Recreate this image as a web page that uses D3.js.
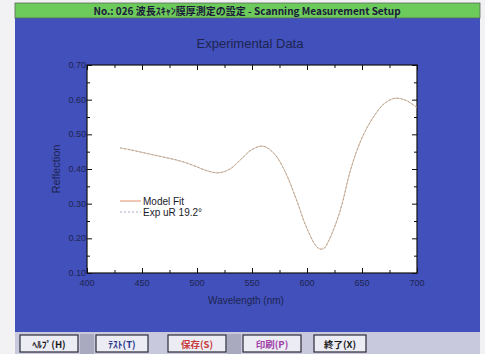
<!DOCTYPE html>
<html>
<head>
<meta charset="utf-8">
<script src="https://cdn.jsdelivr.net/npm/d3@7"></script>
<style>
  body { margin: 0; background: #f4f4f6; }
  svg { display: block; }
</style>
</head>
<body>
<div id="chart"></div>
<script>
// values
const wavelengths = [430, 440, 450, 460, 470, 480, 490, 500, 510, 520, 530, 540, 550, 560, 570, 580, 590, 600, 610, 615, 620, 630, 640, 650, 660, 670, 680, 690, 700];
const modelFit = [0.461, 0.455, 0.448, 0.441, 0.434, 0.427, 0.418, 0.406, 0.394, 0.389, 0.400, 0.428, 0.456, 0.466, 0.445, 0.393, 0.315, 0.228, 0.172, 0.170, 0.195, 0.278, 0.402, 0.490, 0.548, 0.588, 0.604, 0.598, 0.577];
const expData = [0.461, 0.455, 0.448, 0.441, 0.434, 0.427, 0.418, 0.406, 0.394, 0.389, 0.400, 0.428, 0.456, 0.466, 0.445, 0.393, 0.315, 0.228, 0.172, 0.170, 0.195, 0.278, 0.402, 0.490, 0.548, 0.588, 0.604, 0.598, 0.577];
const xTicks = [400, 450, 500, 550, 600, 650, 700];
const yTicks = [0.10, 0.20, 0.30, 0.40, 0.50, 0.60, 0.70];
const legendLabels = ["Model Fit", "Exp uR 19.2°"];
const buttonLabels = ["ﾍﾙﾌﾟ(H)", "ﾃｽﾄ(T)", "保存(S)", "印刷(P)", "終了(X)"];

const width = 485, height = 354;
const jpFont = "'Noto Sans CJK JP', sans-serif";
const font = "'Liberation Sans', Arial, sans-serif";

const svg = d3.select("#chart").append("svg")
  .attr("width", width)
  .attr("height", height);

// window frame
svg.append("rect").attr("x", 0).attr("y", 0).attr("width", width).attr("height", height).attr("fill", "#f2f2f4");
svg.append("rect").attr("x", 15).attr("y", 18).attr("width", 465).attr("height", 314).attr("fill", "#4150bb");

// green title bar
svg.append("rect").attr("x", 15).attr("y", 3).attr("width", 465).attr("height", 15)
  .attr("fill", "#6ccb5a").attr("stroke", "#5a6a5a").attr("stroke-width", 0.8);
svg.append("text")
  .attr("x", 247).attr("y", 14.5)
  .attr("text-anchor", "middle")
  .style("font-family", jpFont)
  .style("font-size", "10px")
  .style("font-weight", "bold")
  .attr("fill", "#1a1a3a")
  .text("No.: 026 波長ｽｷｬﾝ膜厚測定の設定 - Scanning Measurement Setup");

// bottom toolbar
svg.append("rect").attr("x", 15).attr("y", 332).attr("width", 465).attr("height", 22).attr("fill", "#c9c9dd");
const btnX = d3.scaleOrdinal().domain(buttonLabels).range([20, 96, 168, 243, 314]);
const btnW = d3.scaleOrdinal().domain(buttonLabels).range([58, 52, 58, 58, 52]);
const btnColor = d3.scaleOrdinal().domain(buttonLabels).range(["#1a1a1a", "#2a3a8a", "#c83c3c", "#a040a8", "#1a1a1a"]);
// darker strips between buttons
svg.append("rect").attr("x", 80).attr("y", 334).attr("width", 14).attr("height", 20).attr("fill", "#a9a9c0");
svg.append("rect").attr("x", 227).attr("y", 334).attr("width", 14).attr("height", 20).attr("fill", "#a9a9c0");
const btn = svg.selectAll("g.btn").data(buttonLabels).enter().append("g").attr("class", "btn");
btn.append("rect")
  .attr("x", d => btnX(d)).attr("y", 335)
  .attr("width", d => btnW(d)).attr("height", 17)
  .attr("fill", "#ececf4").attr("stroke", "#2a2a3a").attr("stroke-width", 1.2);
btn.append("text")
  .attr("x", d => btnX(d) + btnW(d) / 2).attr("y", 347.5)
  .attr("text-anchor", "middle")
  .style("font-family", jpFont).style("font-size", "9.5px").style("font-weight", "bold")
  .attr("fill", d => btnColor(d))
  .text(d => d);

// plot
const x = d3.scaleLinear().domain([400, 700]).range([87, 417]);
const y = d3.scaleLinear().domain([0.1, 0.7]).range([273, 65]);

svg.append("rect")
  .attr("x", x(400)).attr("y", y(0.7))
  .attr("width", x(700) - x(400)).attr("height", y(0.1) - y(0.7))
  .attr("fill", "#ffffff");

const tickCol = "#111";
// inward ticks on all four sides
const xMinor = d3.range(425, 700, 50);
const yMinor = d3.range(0.15, 0.7, 0.1);
[[273, d3.axisBottom], [65, d3.axisTop]].forEach(([pos, fn]) => {
  [true, false].forEach(major => {
    const g = svg.append("g").attr("transform", `translate(0,${pos})`)
      .call(fn(x).tickValues(major ? xTicks : xMinor).tickSize(major ? -5 : -3).tickFormat(""));
    g.select(".domain").remove();
    g.selectAll("line").attr("stroke", tickCol);
  });
});
[[87, d3.axisLeft], [417, d3.axisRight]].forEach(([pos, fn]) => {
  [true, false].forEach(major => {
    const g = svg.append("g").attr("transform", `translate(${pos},0)`)
      .call(fn(y).tickValues(major ? yTicks : yMinor).tickSize(major ? -5 : -3).tickFormat(""));
    g.select(".domain").remove();
    g.selectAll("line").attr("stroke", tickCol);
  });
});

svg.append("rect")
  .attr("x", x(400)).attr("y", y(0.7))
  .attr("width", x(700) - x(400)).attr("height", y(0.1) - y(0.7))
  .attr("fill", "none").attr("stroke", "#111").attr("stroke-width", 1.2);

// tick labels
svg.selectAll("text.xl").data(xTicks).enter().append("text")
  .attr("x", d => x(d)).attr("y", 286)
  .attr("text-anchor", "middle")
  .style("font-family", font).style("font-size", "9px")
  .attr("fill", "#1e2550")
  .text(d => d);
svg.selectAll("text.yl").data(yTicks).enter().append("text")
  .attr("x", 86).attr("y", d => y(d) + 3)
  .attr("text-anchor", "end")
  .style("font-family", font).style("font-size", "9px")
  .attr("fill", "#1e2550")
  .text(d3.format(".2f"));

// titles
svg.append("text")
  .attr("x", 250).attr("y", 48)
  .attr("text-anchor", "middle")
  .style("font-family", font).style("font-size", "13px")
  .attr("fill", "#1e2550")
  .text("Experimental Data");
svg.append("text")
  .attr("transform", "translate(60,169) rotate(-90)")
  .attr("text-anchor", "middle")
  .style("font-family", font).style("font-size", "11px")
  .attr("fill", "#1e2550")
  .text("Reflection");
svg.append("text")
  .attr("x", 246).attr("y", 304)
  .attr("text-anchor", "middle")
  .style("font-family", font).style("font-size", "10px")
  .attr("fill", "#1e2550")
  .text("Wavelength (nm)");

// curves
const line = d3.line().x(d => x(d[0])).y(d => y(d[1])).curve(d3.curveCatmullRom);
svg.append("path")
  .datum(d3.zip(wavelengths, modelFit))
  .attr("d", line)
  .attr("fill", "none").attr("stroke", "#dcb496").attr("stroke-width", 0.9);
svg.append("path")
  .datum(d3.zip(wavelengths, expData))
  .attr("d", line)
  .attr("fill", "none").attr("stroke", "#9c9c94").attr("stroke-width", 0.8)
  .attr("stroke-dasharray", "2,2");

// legend
const legY = d3.scaleOrdinal().domain(legendLabels).range([201, 212]);
const leg = svg.selectAll("g.leg").data(legendLabels).enter().append("g").attr("class", "leg");
leg.append("line")
  .attr("x1", 120).attr("x2", 141)
  .attr("y1", d => legY(d)).attr("y2", d => legY(d))
  .attr("stroke", (d, i) => i === 0 ? "#e0906a" : "#a8acc0")
  .attr("stroke-width", 1)
  .attr("stroke-dasharray", (d, i) => i === 0 ? null : "2,2");
leg.append("text")
  .attr("x", 143).attr("y", d => legY(d) + 3.5)
  .style("font-family", font).style("font-size", "10px")
  .attr("fill", "#1a1a2a")
  .text(d => d);
</script>
</body>
</html>
